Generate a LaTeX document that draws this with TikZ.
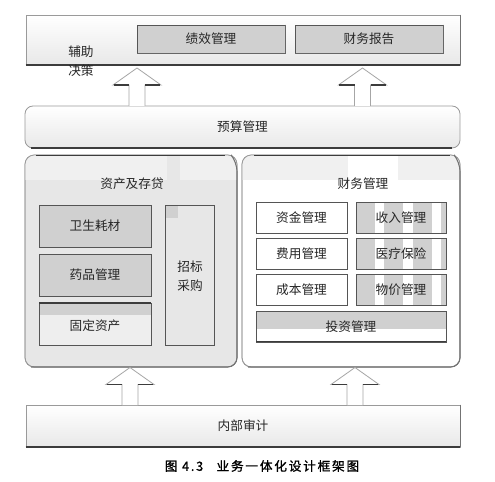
\documentclass[tikz,border=0pt]{standalone}
\usepackage{fontspec}
\newfontfamily\cjk{Noto Sans CJK SC}
\newfontfamily\capfont[LetterSpace=14,FakeBold=1.2]{Noto Sans CJK SC}
\usetikzlibrary{calc,fit}
\definecolor{boxgray}{HTML}{D0D0D0}
\definecolor{panelgray}{HTML}{E7E7E7}
\definecolor{stripgray}{HTML}{F0F0F0}
\definecolor{edge}{HTML}{9A9A9A}
\definecolor{boxedge}{HTML}{555555}
\definecolor{darkedge}{HTML}{3C3C3C}
\definecolor{txt}{HTML}{262626}
\tikzset{
  band/.style={draw=edge, line width=0.6pt, top color=white, bottom color=black!9, inner sep=0pt},
  panel/.style={draw=edge, line width=0.6pt, rounded corners=7pt, inner sep=0pt},
  graybox/.style={draw=boxedge, line width=0.6pt, fill=boxgray, inner sep=0pt},
  whitebox/.style={draw=boxedge, line width=0.6pt, fill=white, inner sep=0pt},
  openbox/.style={draw=boxedge, line width=0.6pt, inner sep=0pt},
  lbl/.style={inner sep=0pt, text=txt, align=center},
  darkline/.style={draw=darkedge, line width=1.4pt},
  arrowline/.style={draw=black!35, line width=0.6pt, fill=white, line join=miter},
  arrowbase/.style={draw=darkedge, line width=1pt}
}
\newcommand\hollowarrow[2]{%
  \draw[arrowline] let \p1=(#1), \p2=(#2) in
    (\x1-6pt,\y1) -- (\x1-6pt,\y2-12.75pt) -- (\x1-18pt,\y2-12.75pt) -- (\x1,\y2)
    -- (\x1+18pt,\y2-12.75pt) -- (\x1+6pt,\y2-12.75pt) -- (\x1+6pt,\y1);
  \draw[arrowbase] let \p1=(#1), \p2=(#2) in
    (\x1-17.5pt,\y2-12.75pt) -- (\x1-6pt,\y2-12.75pt)
    (\x1+6pt,\y2-12.75pt) -- (\x1+17.5pt,\y2-12.75pt);
}
\begin{document}
\begin{tikzpicture}[x=0.75pt,y=-0.75pt,font=\cjk\fontsize{9.5}{12}\selectfont]
\useasboundingbox (0,0) rectangle (495,481);
\fill[white] (0,0) rectangle (495,481);

% ---------- top band: decision support
\node[band, fit={(26,15) (460,65)}] (fuzhu) {};
\draw[darkline] (fuzhu.south west) -- (fuzhu.south east);
\draw[black!55, line width=0.8pt] (fuzhu.north east) -- (fuzhu.south east);
\node[lbl, anchor=west, align=left, font=\cjk\fontsize{9.5}{14.5}\selectfont] (fuzhutxt) at (68,61) {辅助\\决策};
\node[graybox, fit={(137,25) (285,53)}] (jixiao) {};
\node[graybox, fit={(295,25) (443,53)}] (baogao) {};
\draw[black!60, line width=0.8pt] (jixiao.north east) -- (jixiao.south east) -- (jixiao.south west);
\draw[black!60, line width=0.8pt] (baogao.north east) -- (baogao.south east) -- (baogao.south west);
\node[lbl] (jixiaotxt) at (jixiao.center) {绩效管理};
\node[lbl] (baogaotxt) at (baogao.center) {财务报告};

% ---------- budget band
\node[band, rounded corners=6pt, fit={(25,106) (460,148)}] (yusuan) {};
\draw[darkline] (31,148) -- (452,148);
\node[lbl] (yusuantxt) at (yusuan.center) {预算管理};

% ---------- left panel: assets & inventory
\node[panel, fill=panelgray, fit={(25,155) (237,367)}] (zichan) {};
\begin{scope}
  \clip[rounded corners=7pt] (25,155) rectangle (237,367);
  \fill[stripgray] (25,155) rectangle (167,180);
  \fill[stripgray] (180,155) rectangle (237,180);
\end{scope}
\draw[edge, line width=0.6pt, rounded corners=7pt] (25,155) rectangle (237,367);
\draw[black!55, line width=0.8pt, rounded corners=7pt] (232,156) -- (237,162) -- (237,367) -- (31,367);
\draw[darkline] (36,155.5) -- (225,155.5);
\node[lbl] (zichantxt) at (132,184) {资产及存贷};
\node[graybox, fit={(39,205) (151,247)}] (weisheng) {};
\node[lbl] (weishengtxt) at (weisheng.center) {卫生耗材};
\node[graybox, fit={(39,254) (151,296)}] (yaopin) {};
\node[lbl] (yaopintxt) at (yaopin.center) {药品管理};
\fill[panelgray!70!white] (39,303) rectangle (151,345);
\fill[boxgray] (39,303) rectangle (151,315);
\node[openbox, fit={(39,303) (151,345)}] (guding) {};
\draw[darkline, line width=1.1pt] (39,303) -- (151,303);
\node[lbl] (gudingtxt) at (95,326) {固定资产};
\fill[panelgray] (165,205) rectangle (214,345);
\fill[boxgray] (165,205) rectangle (178,218);
\node[openbox, fit={(165,205) (214,345)}] (zhaobiao) {};
\node[lbl, font=\cjk\fontsize{9.5}{14.5}\selectfont] (zhaobiaotxt) at (190,276) {招标\\采购};

% ---------- right panel: financial management
\node[panel, fill=white, fit={(242,155) (460,367)}] (caiwu) {};
\begin{scope}
  \clip[rounded corners=7pt] (242,155) rectangle (460,367);
  \fill[stripgray] (242,155) rectangle (348,180);
  \fill[stripgray] (398,155) rectangle (460,180);
\end{scope}
\draw[edge, line width=0.6pt, rounded corners=7pt] (242,155) rectangle (460,367);
\draw[black!55, line width=0.8pt, rounded corners=7pt] (455,156) -- (460,162) -- (460,367) -- (248,367);
\draw[darkline] (254,155.5) -- (450,155.5);
\node[lbl] (caiwutxt) at (363,184) {财务管理};

\node[whitebox, fit={(256,202) (347,233)}] (zijin) {};
\node[whitebox, fit={(256,238) (347,269)}] (feiyong) {};
\node[whitebox, fit={(256,274) (347,305)}] (chengben) {};
\node[lbl] (zijintxt) at (zijin.center) {资金管理};
\node[lbl] (feiyongtxt) at (feiyong.center) {费用管理};
\node[lbl] (chengbentxt) at (chengben.center) {成本管理};
\foreach \ya/\yb in {202/233, 238/269, 274/305}{
  \fill[boxgray] (356,\ya) rectangle (446,\yb);
  \fill[white] (375,\ya) rectangle (384,\yb);
  \fill[white] (403.3,\ya) rectangle (412.7,\yb);
  \fill[white] (431.7,\ya) rectangle (441,\yb);
}
\node[openbox, fit={(356,202) (446,233)}] (shouru) {};
\node[openbox, fit={(356,238) (446,269)}] (yiliao) {};
\node[openbox, fit={(356,274) (446,305)}] (wujia) {};
\node[lbl] (shourutxt) at (shouru.center) {收入管理};
\node[lbl] (yiliaotxt) at (yiliao.center) {医疗保险};
\node[lbl] (wujiatxt) at (wujia.center) {物价管理};
\fill[white] (256,311) rectangle (446,342);
\fill[boxgray] (256,311) rectangle (446,329);
\node[openbox, fit={(256,311) (446,342)}] (touzi) {};
\draw[darkline, line width=1.2pt] (256,341.5) -- (446,341.5);
\node[lbl] (touzitxt) at (touzi.center) {投资管理};

% ---------- internal audit band
\node[band, fit={(26,405) (460,447)}] (shenji) {};
\draw[darkline] (shenji.south west) -- (shenji.south east);
\draw[black!55, line width=0.8pt] (shenji.north east) -- (shenji.south east);
\node[lbl] (shenjitxt) at (shenji.center) {内部审计};

% ---------- hollow block arrows
\coordinate (a1s) at (137,106); \coordinate (a1t) at (137,68);
\coordinate (a2s) at (362.5,106); \coordinate (a2t) at (362.5,68);
\coordinate (a3s) at (130,405); \coordinate (a3t) at (130,367.5);
\coordinate (a4s) at (355,405); \coordinate (a4t) at (355,367.5);
\hollowarrow{a1s}{a1t}
\hollowarrow{a2s}{a2t}
\hollowarrow{a3s}{a3t}
\hollowarrow{a4s}{a4t}

% ---------- caption
\node[lbl, font=\capfont\fontsize{9.5}{12}\selectfont, text=black] (caption) at (262,466)
  {图 4.3\hspace{10pt}业务一体化设计框架图};
\end{tikzpicture}
\end{document}
